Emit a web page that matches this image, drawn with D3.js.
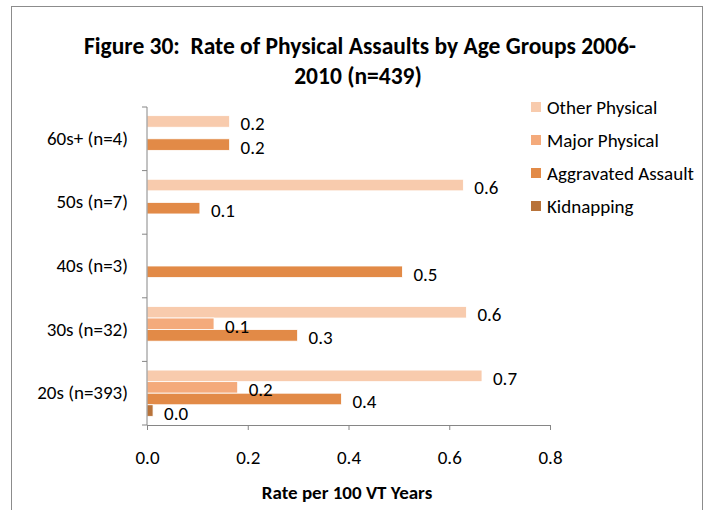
<!DOCTYPE html>
<html>
<head>
<meta charset="utf-8">
<script src="https://cdn.jsdelivr.net/npm/d3@7"></script>
<style>
  body { margin: 0; background: #fff; }
  text { font-family: Carlito, "Liberation Sans Narrow", "Noto Sans", sans-serif; fill: #000; }
</style>
</head>
<body>
<div id="chart"></div>
<script>
// categories, top to bottom as drawn
var groups = ["60s+ (n=4)", "50s (n=7)", "40s (n=3)", "30s (n=32)", "20s (n=393)"];
var seriesNames = ["Other Physical", "Major Physical", "Aggravated Assault", "Kidnapping"];
var seriesColors = ["#f8cbad", "#f4aa7b", "#e28a47", "#b8733a"];

// rate per 100 VT years, one array per series (same order as groups), 0 = no bar
var otherPhysical = [0.164, 0.628, 0, 0.634, 0.665];
var majorPhysical = [0, 0, 0, 0.133, 0.180];
var aggravated    = [0.164, 0.105, 0.507, 0.299, 0.386];
var kidnapping    = [0, 0, 0, 0, 0.012];

var xTicks = [0, 0.2, 0.4, 0.6, 0.8];

var W = 709, H = 510;
var fontStack = 'Carlito, "Liberation Sans Narrow", "Noto Sans", sans-serif';
var svg = d3.select("#chart").append("svg")
  .attr("width", W).attr("height", H);

// chart area border
svg.append("rect")
  .attr("x", 11.5).attr("y", 6.5)
  .attr("width", 691).attr("height", 520)
  .attr("fill", "#fff").attr("stroke", "#8c8c8c").attr("stroke-width", 1);

// title
var title = svg.append("text")
  .attr("text-anchor", "middle")
  .style("white-space", "pre")
  .style("font-weight", "bold").style("font-size", "23.5px");
title.append("tspan").attr("x", 360).attr("y", 54)
  .text("Figure 30:  Rate of Physical Assaults by Age Groups 2006-");
title.append("tspan").attr("x", 358).attr("y", 84)
  .text("2010 (n=439)");

var x = d3.scaleLinear().domain([0, 0.8]).range([147, 550]);
var y = d3.scaleBand().domain(groups).range([107, 425]);
var ySub = d3.scaleBand().domain(seriesNames)
  .range([0, y.bandwidth()]).paddingOuter(0.75);

var table = [otherPhysical, majorPhysical, aggravated, kidnapping];
var bars = [];
seriesNames.forEach(function(s, i) {
  groups.forEach(function(g, j) {
    if (table[i][j] > 0) bars.push({group: g, series: s, idx: i, value: table[i][j]});
  });
});

svg.append("g").selectAll("rect")
  .data(bars).enter().append("rect")
  .attr("x", x(0))
  .attr("y", function(d) { return y(d.group) + ySub(d.series); })
  .attr("width", function(d) { return x(d.value) - x(0); })
  .attr("height", ySub.bandwidth())
  .attr("fill", function(d) { return seriesColors[d.idx]; })
  .attr("stroke", "#fff").attr("stroke-width", 0.8);

// data labels
var fmt = d3.format(".1f");
svg.append("g").selectAll("text")
  .data(bars).enter().append("text")
  .attr("x", function(d) { return x(d.value) + 11; })
  .attr("y", function(d) { return y(d.group) + ySub(d.series) + ySub.bandwidth() / 2 + 9; })
  .style("font-size", "19px")
  .text(function(d) { return fmt(d.value); });

// axes
var xAxis = svg.append("g")
  .attr("transform", "translate(0,425)")
  .call(d3.axisBottom(x).tickValues(xTicks).tickFormat(d3.format(".1f"))
    .tickSize(5).tickPadding(21));
var yAxis = svg.append("g")
  .attr("transform", "translate(147,0)")
  .call(d3.axisLeft(y).tickSize(0).tickPadding(19));

[xAxis, yAxis].forEach(function(a) {
  a.select(".domain").attr("stroke", "#868686");
  a.selectAll(".tick line").attr("stroke", "#868686");
  a.selectAll("text").style("font-size", "19px")
    .style("font-family", fontStack)
    .attr("fill", "#000");
});

// y ticks at band edges
var edges = groups.map(function(g) { return y(g); }).concat([y.range()[1]]);
yAxis.selectAll("line.edge").data(edges).enter().append("line")
  .attr("class", "edge")
  .attr("x1", -5).attr("x2", 0)
  .attr("y1", function(d) { return d; }).attr("y2", function(d) { return d; })
  .attr("stroke", "#868686");
yAxis.select(".domain").attr("d", "M0," + y.range()[0] + "V" + y.range()[1]);

// x axis title
svg.append("text")
  .attr("x", 347).attr("y", 499)
  .attr("text-anchor", "middle")
  .style("font-weight", "bold").style("font-size", "19px")
  .text("Rate per 100 VT Years");

// legend
var legend = svg.append("g").selectAll("g")
  .data(seriesNames).enter().append("g")
  .attr("transform", function(d, i) { return "translate(531," + (102 + i * 33) + ")"; });
legend.append("rect")
  .attr("width", 10).attr("height", 10)
  .attr("fill", function(d, i) { return seriesColors[i]; });
legend.append("text")
  .attr("x", 16).attr("y", 12)
  .style("font-size", "19px")
  .text(function(d) { return d; });
</script>
</body>
</html>
